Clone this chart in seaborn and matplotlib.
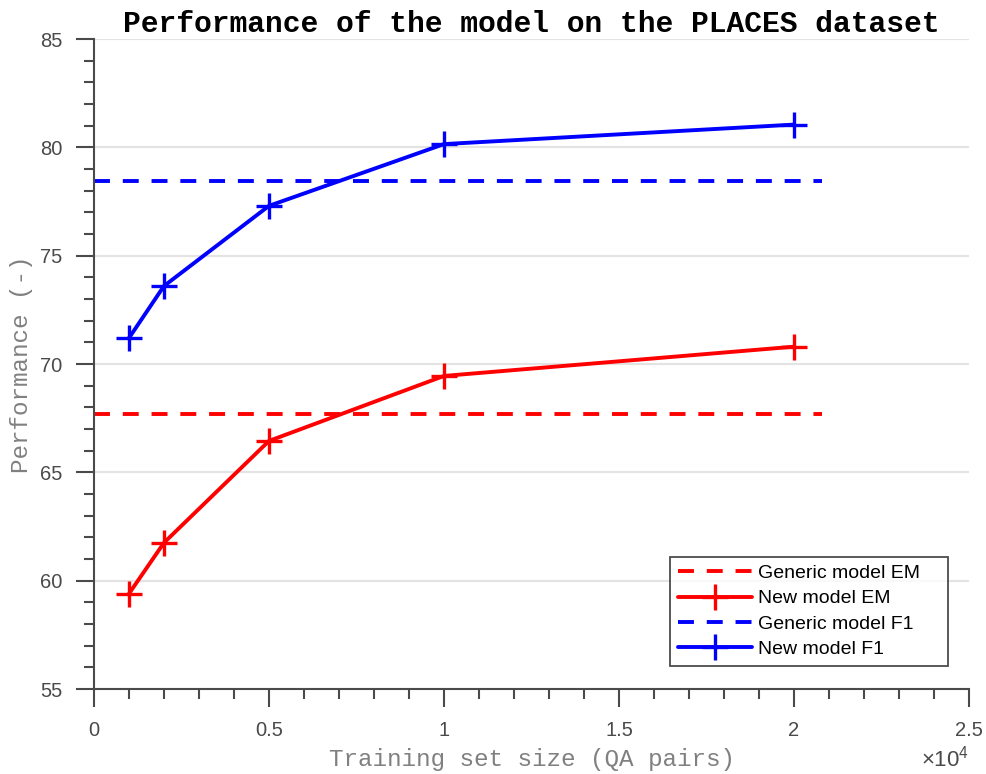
import numpy as np
import pandas as pd
import matplotlib
matplotlib.use("Agg")
import matplotlib.pyplot as plt
import matplotlib.ticker as mticker
import seaborn as sns

# data
train_size = [1000, 2000, 5000, 10000, 20000]
new_em = [59.4, 61.75, 66.45, 69.45, 70.8]
new_f1 = [71.2, 73.6, 77.3, 80.15, 81.05]
generic_x = [0, 20800]
generic_em = [67.7, 67.7]
generic_f1 = [78.45, 78.45]

sns.set_style("ticks")
plt.rcParams["font.family"] = ["Liberation Sans", "DejaVu Sans"]
plt.rcParams["mathtext.fontset"] = "custom"
plt.rcParams["mathtext.rm"] = "Liberation Sans"

axis_gray = "#4a4a4a"
label_gray = "#808080"
dash = (0, (4.1, 3.3))

fig = plt.figure(figsize=(9.86, 7.74), dpi=100)
ax = fig.add_axes([0.0953, 0.1098, 0.8875, 0.8398])

sns.lineplot(x=generic_x, y=generic_em, ax=ax, color="#ff0000", lw=2.8,
             linestyle=dash, label="Generic model EM")
sns.lineplot(x=train_size, y=new_em, ax=ax, color="#ff0000", lw=2.8,
             marker="+", markersize=19, markeredgewidth=2.4,
             markeredgecolor="#ff0000", label="New model EM")
sns.lineplot(x=generic_x, y=generic_f1, ax=ax, color="#0000ff", lw=2.8,
             linestyle=dash, label="Generic model F1")
sns.lineplot(x=train_size, y=new_f1, ax=ax, color="#0000ff", lw=2.8,
             marker="+", markersize=19, markeredgewidth=2.4,
             markeredgecolor="#0000ff", label="New model F1")

ax.set_xlim(0, 25000)
ax.set_ylim(55, 85)
ax.xaxis.set_major_locator(mticker.MultipleLocator(5000))
ax.xaxis.set_minor_locator(mticker.MultipleLocator(1000))
ax.yaxis.set_major_locator(mticker.MultipleLocator(5))
ax.yaxis.set_minor_locator(mticker.MultipleLocator(1))
ax.xaxis.set_major_formatter(mticker.FuncFormatter(lambda v, p: f"{v / 1e4:g}"))

ax.grid(axis="y", which="major", color="#e3e3e3", lw=1.5)
ax.set_axisbelow(True)
sns.despine(ax=ax)
for s in ["left", "bottom"]:
    ax.spines[s].set_color(axis_gray)
    ax.spines[s].set_linewidth(1.5)
ax.tick_params(which="major", direction="out", length=13, width=1.5,
               color=axis_gray, labelcolor=axis_gray, labelsize=14.5)
ax.tick_params(axis="y", which="major", pad=10)
ax.tick_params(axis="x", which="major", pad=10)
ax.tick_params(which="minor", direction="out", length=7.5, width=1.5,
               color=axis_gray)

ax.set_title("Performance of the model on the PLACES dataset",
             fontfamily="Liberation Mono", fontweight="bold", fontsize=21.3,
             color="black", pad=5)
ax.set_xlabel("Training set size (QA pairs)", fontfamily="Liberation Mono",
              fontsize=17.5, color=label_gray, labelpad=6)
ax.set_ylabel("Performance (-)", fontfamily="Liberation Mono",
              fontsize=17.5, color=label_gray, labelpad=5)
ax.text(1.0, -0.107, r"$\times10^{4}$", transform=ax.transAxes,
        ha="right", va="center", fontsize=16, color=axis_gray)

leg = ax.legend(loc="lower left", bbox_to_anchor=(0.6583, 0.0354, 0.3177, 0.166),
                mode="expand", fontsize=14, frameon=True, fancybox=False,
                handlelength=3.8, handletextpad=0.3, borderpad=0.4,
                labelspacing=0.4, borderaxespad=0)
leg.get_frame().set_edgecolor("#202020")
leg.get_frame().set_linewidth(1.3)
for t in leg.get_texts():
    t.set_color("black")

fig.savefig("out.png", dpi=100)
